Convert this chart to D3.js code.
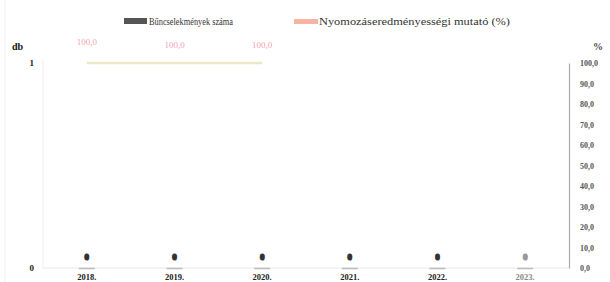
<!DOCTYPE html>
<html><head><meta charset="utf-8">
<script src="https://cdn.jsdelivr.net/npm/d3@7"></script>
<style>body{margin:0;background:#fff}svg{display:block}</style>
</head><body>
<script>
const categories = ["2018.", "2019.", "2020.", "2021.", "2022.", "2023."];
const crimeCounts = [0, 0, 0, 0, 0, 0];
const clearanceRate = [100, 100, 100, null, null, null];
const leftTicks = [0, 1];
const rightTicks = [0, 10, 20, 30, 40, 50, 60, 70, 80, 90, 100];
const seriesNames = ["Bűncselekmények száma", "Nyomozáseredményességi mutató (%)"];

const W = 610, H = 282;
const m = {left: 43, right: 41, top: 63, bottom: 14};
const svg = d3.select("body").append("svg").attr("width", W).attr("height", H);
const font = "'Liberation Serif', 'DejaVu Serif', serif";

const x = d3.scaleBand().domain(categories).range([m.left, W - m.right]).paddingInner(0.35).paddingOuter(0.175);
const yL = d3.scaleLinear().domain([0, 1]).range([H - m.bottom, m.top]);
const yR = d3.scaleLinear().domain([0, 100]).range([H - m.bottom, m.top]);
const cx = c => x(c) + x.bandwidth() / 2;

// faint frame lines
svg.append("line").attr("x1", 5).attr("x2", 5).attr("y1", 0).attr("y2", H).attr("stroke", "#f0f0f0");
svg.append("line").attr("x1", m.left).attr("x2", m.left).attr("y1", m.top - 3).attr("y2", H - m.bottom).attr("stroke", "#eeeeee");

// left axis
const gL = svg.append("g").attr("transform", `translate(${m.left - 6},0)`)
  .call(d3.axisLeft(yL).tickValues(leftTicks).tickFormat(d3.format("d")).tickSize(0));
gL.select(".domain").remove();
gL.selectAll("text").attr("font-family", font).attr("font-size", 9).attr("font-weight", "bold").attr("fill", "#222");

// right axis
const gR = svg.append("g").attr("transform", `translate(${W - m.right},0)`)
  .call(d3.axisRight(yR).tickValues(rightTicks).tickFormat(d => d3.format(".1f")(d).replace(".", ",")).tickSize(0));
gR.select(".domain").attr("stroke", "#aaa").attr("stroke-width", 1.2);
gR.selectAll("text").attr("font-family", font).attr("font-size", 8).attr("font-weight", "bold").attr("fill", "#555").attr("dx", 8);

// unit labels
svg.append("text").attr("x", 12).attr("y", 50).text("db").attr("font-family", font).attr("font-size", 10).attr("font-weight", "bold").attr("fill", "#111");
svg.append("text").attr("x", 593).attr("y", 50).text("%").attr("font-family", font).attr("font-size", 10).attr("font-weight", "bold").attr("fill", "#444");

// x baseline
svg.append("line").attr("x1", m.left).attr("x2", W - m.right).attr("y1", yL(0)).attr("y2", yL(0)).attr("stroke", "#e8e8e8");

// bars (zero height) + small baseline dash
svg.selectAll("rect.bar").data(crimeCounts).join("rect").attr("class", "bar")
  .attr("x", (d, i) => x(categories[i])).attr("width", x.bandwidth())
  .attr("y", d => yL(d)).attr("height", d => yL(0) - yL(d)).attr("fill", "#555");
svg.selectAll("line.dash").data(crimeCounts).join("line").attr("class", "dash")
  .attr("x1", (d, i) => cx(categories[i]) - 8)
  .attr("x2", (d, i) => cx(categories[i]) + 8)
  .attr("y1", yL(0) + 0.5).attr("y2", yL(0) + 0.5).attr("stroke", "#bbb").attr("stroke-width", 1.5);

// bar value labels
svg.selectAll("text.blab").data(crimeCounts).join("text").attr("class", "blab")
  .attr("x", (d, i) => cx(categories[i])).attr("y", d => yL(d) - 8)
  .attr("text-anchor", "middle").attr("font-family", font).attr("font-size", 9).attr("font-weight", "bold")
  .attr("fill", (d, i) => i === 5 ? "#999" : "#333").attr("stroke", (d, i) => i === 5 ? "#999" : "#333").attr("stroke-width", 1.2)
  .text(d => d);

// x labels
svg.selectAll("text.xl").data(categories).join("text").attr("class", "xl")
  .attr("x", d => cx(d)).attr("y", H - 2)
  .attr("text-anchor", "middle").attr("font-family", font).attr("font-size", 8.5).attr("font-weight", "bold")
  .attr("fill", (d, i) => i === 5 ? "#888" : "#222").text(d => d);

// line series
const pts = clearanceRate.map((v, i) => ({c: categories[i], v})).filter(p => p.v !== null);
svg.append("path").datum(pts)
  .attr("d", d3.line().x(p => cx(p.c)).y(p => yR(p.v)))
  .attr("fill", "none").attr("stroke", "#ece7c4").attr("stroke-width", 2.5);
svg.selectAll("text.llab").data(pts).join("text").attr("class", "llab")
  .attr("x", p => cx(p.c)).attr("y", (p, i) => yR(p.v) - (i === 0 ? 18 : 15))
  .attr("text-anchor", "middle").attr("font-family", font).attr("font-size", 9)
  .attr("fill", "#f5a3b5").text(p => d3.format(".1f")(p.v).replace(".", ","));

// legend
const lg = svg.append("g");
lg.append("rect").attr("x", 124).attr("y", 18).attr("width", 23).attr("height", 6).attr("fill", "#555");
lg.append("text").attr("x", 149).attr("y", 25).text(seriesNames[0]).attr("font-family", font).attr("font-size", 10)
  .attr("textLength", 84).attr("lengthAdjust", "spacingAndGlyphs").attr("fill", "#333");
lg.append("rect").attr("x", 294).attr("y", 19).attr("width", 24).attr("height", 5).attr("fill", "#f9b3a3");
lg.append("text").attr("x", 319).attr("y", 25).text(seriesNames[1]).attr("font-family", font).attr("font-size", 10)
  .attr("textLength", 191).attr("lengthAdjust", "spacingAndGlyphs").attr("fill", "#333");
</script>
</body></html>
